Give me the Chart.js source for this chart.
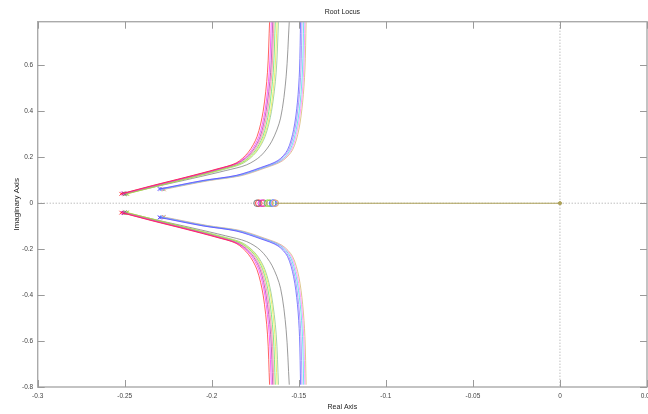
<!DOCTYPE html>
<html><head><meta charset="utf-8">
<script src="https://cdn.jsdelivr.net/npm/chart.js@4/dist/chart.umd.min.js"></script>
<style>html,body{margin:0;padding:0;background:#fff}
#wrap{width:648px;height:414px;overflow:hidden;position:relative}</style>
</head><body>
<div id="wrap"><canvas id="c" width="652" height="414" style="display:block;width:652px;height:414px"></canvas></div>
<script>
// ---- data ----
const xTickValues = [-0.3, -0.25, -0.2, -0.15, -0.1, -0.05, 0, 0.05];
const yTickValues = [-0.8, -0.6, -0.4, -0.2, 0, 0.2, 0.4, 0.6];
const systemColors = ['#ff2020','#ff20ff','#a030a0','#ff7090','#50e050','#e8e830','#80c080','#707070',
                      '#4848ff','#9070ff','#30e0e0','#ff70ff','#d0b060'];
// upper (positive imaginary) branch of each system, from open-loop pole to top of view
const branchA1 = [[-0.252,0.041],[-0.234,0.077],[-0.215,0.113],[-0.197,0.149],[-0.186,0.175],[-0.179,0.222],[-0.174,0.29],[-0.1705,0.40],[-0.168,0.57],[-0.1668,0.79]];
const branchA2 = [[-0.251,0.042],[-0.233,0.078],[-0.214,0.114],[-0.196,0.150],[-0.185,0.177],[-0.178,0.222],[-0.173,0.29],[-0.1695,0.40],[-0.167,0.57],[-0.1658,0.79]];
const branchA3 = [[-0.2505,0.043],[-0.2325,0.078],[-0.2135,0.114],[-0.1955,0.150],[-0.1845,0.177],[-0.1772,0.222],[-0.1722,0.29],[-0.1688,0.40],[-0.1662,0.57],[-0.1650,0.79]];
const branchA4 = [[-0.250,0.041],[-0.232,0.077],[-0.213,0.113],[-0.195,0.149],[-0.184,0.176],[-0.1765,0.222],[-0.1715,0.29],[-0.168,0.40],[-0.1655,0.57],[-0.1643,0.79]];
const branchA5 = [[-0.249,0.042],[-0.231,0.077],[-0.212,0.113],[-0.194,0.149],[-0.183,0.176],[-0.1757,0.222],[-0.1707,0.29],[-0.1672,0.40],[-0.1647,0.57],[-0.1635,0.79]];
const branchA6 = [[-0.2485,0.041],[-0.2305,0.076],[-0.2115,0.112],[-0.1935,0.148],[-0.1825,0.175],[-0.175,0.222],[-0.170,0.29],[-0.1663,0.40],[-0.1638,0.57],[-0.1625,0.79]];
const branchA7 = [[-0.249,0.040],[-0.231,0.075],[-0.2115,0.111],[-0.193,0.147],[-0.182,0.174],[-0.1745,0.222],[-0.1694,0.29],[-0.1657,0.40],[-0.1630,0.57],[-0.1617,0.79]];
const branchG  = [[-0.250,0.040],[-0.231,0.074],[-0.211,0.108],[-0.192,0.142],[-0.180,0.167],[-0.172,0.205],[-0.1655,0.27],[-0.1605,0.37],[-0.1573,0.55],[-0.1555,0.79]];
const branchB1 = [[-0.230,0.062],[-0.205,0.099],[-0.186,0.121],[-0.172,0.155],[-0.162,0.186],[-0.1565,0.232],[-0.153,0.32],[-0.1508,0.44],[-0.1496,0.58],[-0.1490,0.79]];
const branchB2 = [[-0.2295,0.062],[-0.2045,0.099],[-0.1855,0.121],[-0.1713,0.155],[-0.1613,0.186],[-0.1558,0.232],[-0.1523,0.32],[-0.1501,0.44],[-0.1488,0.58],[-0.1482,0.79]];
const branchB3 = [[-0.2285,0.061],[-0.2035,0.098],[-0.1845,0.120],[-0.1705,0.154],[-0.1605,0.185],[-0.155,0.232],[-0.1515,0.32],[-0.1492,0.44],[-0.1479,0.58],[-0.1472,0.79]];
const branchB4 = [[-0.228,0.061],[-0.203,0.098],[-0.184,0.120],[-0.170,0.154],[-0.160,0.185],[-0.1543,0.232],[-0.1508,0.32],[-0.1485,0.44],[-0.1472,0.58],[-0.1465,0.79]];
const branchB5 = [[-0.2275,0.060],[-0.2025,0.097],[-0.1835,0.119],[-0.1695,0.153],[-0.1595,0.184],[-0.1536,0.232],[-0.150,0.32],[-0.1478,0.44],[-0.1465,0.58],[-0.1458,0.79]];
const upperBranches = [branchA1,branchA2,branchA3,branchA4,branchA5,branchA6,branchA7,branchG,branchB1,branchB2,branchB3,branchB4,branchB5];
const zeroLocations = [-0.173,-0.1715,-0.1705,-0.170,-0.168,-0.167,-0.1665,-0.174,-0.165,-0.1645,-0.1645,-0.164,-0.1635];
const originPole = 0;
const realBranchX = [-0.1635, 0];
const realBranchColor = '#aea25a';

// ---- build datasets ----
const datasets = [];
upperBranches.forEach((b, i) => {
  const upper = b.map(p => ({x: p[0], y: p[1]}));
  const lower = b.map(p => ({x: p[0], y: -p[1]}));
  datasets.push({
    data: upper.concat([{x: NaN, y: NaN}], lower),
    showLine: true, borderColor: systemColors[i], borderWidth: 0.7,
    pointRadius: 0, tension: 0.3, fill: false
  });
});
datasets.push({
  data: realBranchX.map(x => ({x, y: 0})),
  showLine: true, borderColor: realBranchColor, borderWidth: 1.1, pointRadius: 0
});
const polePts = [], poleCols = [];
upperBranches.forEach((b, i) => {
  polePts.push({x: b[0][0], y: b[0][1]}, {x: b[0][0], y: -b[0][1]});
  poleCols.push(systemColors[i], systemColors[i]);
});
datasets.push({
  data: polePts, showLine: false, pointStyle: 'crossRot', pointRadius: 2.6,
  pointBorderColor: poleCols, pointBorderWidth: 0.9
});
datasets.push({
  data: zeroLocations.map(x => ({x, y: 0})), showLine: false, pointStyle: 'circle',
  pointRadius: 3.3, pointBackgroundColor: 'rgba(0,0,0,0)',
  pointBorderColor: systemColors, pointBorderWidth: 0.9
});
datasets.push({
  data: [{x: originPole, y: 0}], showLine: false, pointStyle: 'circle',
  pointRadius: 1.6, pointBackgroundColor: realBranchColor, pointBorderColor: realBranchColor
});

const fmt = v => String(+Number(v).toFixed(2));

const framePlugin = {
  id: 'frame',
  beforeDatasetsDraw(chart) {
    const {ctx, chartArea: a, scales: {x, y}} = chart;
    const x0 = x.getPixelForValue(0), y0 = y.getPixelForValue(0);
    ctx.save();
    ctx.strokeStyle = '#a0a0a0'; ctx.lineWidth = 1; ctx.setLineDash([1, 2]);
    ctx.beginPath();
    ctx.moveTo(a.left, y0); ctx.lineTo(a.right, y0);
    ctx.moveTo(x0, a.top); ctx.lineTo(x0, a.bottom);
    ctx.stroke();
    ctx.restore();
  },
  afterDatasetsDraw(chart) {
    const {ctx, chartArea: a, scales: {x, y}} = chart;
    ctx.save();
    ctx.strokeStyle = '#aaaaaa'; ctx.lineWidth = 1.4; ctx.setLineDash([]);
    ctx.strokeRect(a.left, a.top, a.right - a.left, a.bottom - a.top);
    ctx.lineWidth = 1; ctx.strokeStyle = '#9a9a9a';
    const L = 7;
    ctx.beginPath();
    xTickValues.forEach(v => {
      const px = Math.round(x.getPixelForValue(v)) + 0.5;
      ctx.moveTo(px, a.bottom); ctx.lineTo(px, a.bottom - L);
      ctx.moveTo(px, a.top); ctx.lineTo(px, a.top + L);
    });
    yTickValues.forEach(v => {
      const py = Math.round(y.getPixelForValue(v)) + 0.5;
      ctx.moveTo(a.left, py); ctx.lineTo(a.left + L, py);
      ctx.moveTo(a.right, py); ctx.lineTo(a.right - L, py);
    });
    ctx.stroke();
    ctx.restore();
  }
};

new Chart(document.getElementById('c'), {
  type: 'scatter',
  data: {datasets},
  plugins: [framePlugin],
  options: {
    responsive: false, animation: false,
    layout: {padding: {left: 0, right: 2.3, top: 0, bottom: 0}},
    plugins: {
      legend: {display: false}, tooltip: {enabled: false},
      title: {display: true, text: 'Root Locus', fullSize: false, color: '#222',
        font: {family: 'Liberation Sans', size: 7, weight: 'normal'},
        padding: {top: 7.8, bottom: 5.5}}
    },
    scales: {
      x: {
        type: 'linear', position: 'bottom', min: -0.3, max: 0.05,
        grid: {display: false, drawTicks: false}, border: {display: false},
        afterBuildTicks: s => { s.ticks = xTickValues.map(v => ({value: v})); },
        afterFit: s => { s.height = 27; s.paddingLeft = 0; s.paddingRight = 0; },
        ticks: {autoSkip: false, maxRotation: 0, padding: 5, color: '#444',
          font: {family: 'Liberation Sans', size: 6.5}, callback: fmt},
        title: {display: true, text: 'Real Axis', color: '#222',
          font: {family: 'Liberation Sans', size: 7}, padding: {top: 0, bottom: 2.5}}
      },
      y: {
        type: 'linear', position: 'left', min: -0.8, max: 0.79,
        grid: {display: false, drawTicks: false}, border: {display: false},
        afterBuildTicks: s => { s.ticks = yTickValues.map(v => ({value: v})); },
        afterFit: s => { s.width = 37.7; s.paddingTop = 0; s.paddingBottom = 0; },
        ticks: {autoSkip: false, padding: 4.5, color: '#444',
          font: {family: 'Liberation Sans', size: 6.5}, callback: fmt},
        title: {display: true, text: 'Imaginary Axis', color: '#222',
          font: {family: 'Liberation Sans', size: 8}, padding: {top: 11.5, bottom: 0}}
      }
    }
  }
});
</script>
</body></html>
